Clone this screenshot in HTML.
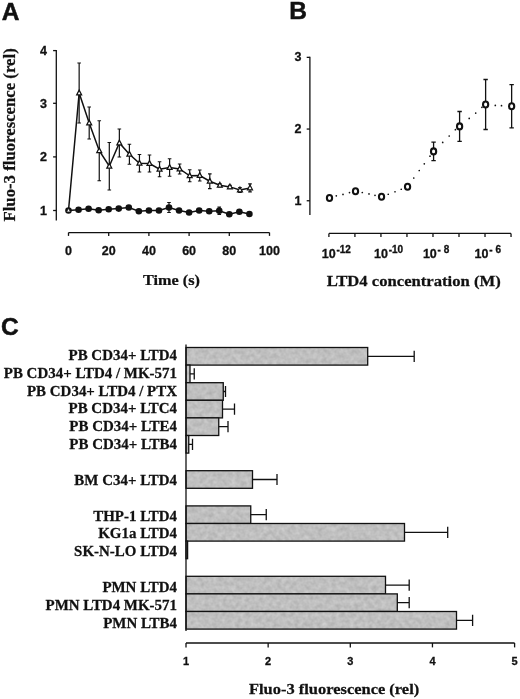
<!DOCTYPE html><html><head><meta charset="utf-8"><title>Figure</title><style>
html,body{margin:0;padding:0;background:#fff;}svg{display:block;will-change:transform;opacity:0.999;}
.s{font-family:"Liberation Sans",sans-serif;font-weight:bold;fill:#111;stroke:#111;stroke-width:0.3;}
.r{font-family:"Liberation Serif",serif;font-weight:bold;fill:#111;stroke:#111;stroke-width:0.25;}
.p{stroke:#111;stroke-width:0.5;}
</style></head><body>
<svg width="520" height="699" viewBox="0 0 520 699">
<rect width="520" height="699" fill="#fff"/>
<defs><filter id="n" x="0" y="0" width="100%" height="100%" color-interpolation-filters="sRGB"><feTurbulence type="fractalNoise" baseFrequency="0.22" numOctaves="2" seed="7" result="t"/><feColorMatrix in="t" type="matrix" values="0.16 0 0 0 0.67  0.16 0 0 0 0.67  0.16 0 0 0 0.67  0 0 0 0 1" result="g"/><feComposite in="g" in2="SourceGraphic" operator="in"/></filter></defs>
<text class="s p" x="1.8" y="19.6" font-size="24.5">A</text>
<text class="s p" x="289.3" y="19.1" font-size="24.5">B</text>
<text class="s p" x="1" y="334.7" font-size="24.5">C</text>
<path d="M56.3 50.1V220.5" stroke="#111" stroke-width="1.3" fill="none"/>
<path d="M53.099999999999994 210.5H56.3" stroke="#111" stroke-width="1.3"/>
<text class="s" x="46.9" y="214.9" font-size="12.5" text-anchor="end">1</text>
<path d="M53.099999999999994 156.9H56.3" stroke="#111" stroke-width="1.3"/>
<text class="s" x="46.9" y="161.3" font-size="12.5" text-anchor="end">2</text>
<path d="M53.099999999999994 103.3H56.3" stroke="#111" stroke-width="1.3"/>
<text class="s" x="46.9" y="107.7" font-size="12.5" text-anchor="end">3</text>
<path d="M53.099999999999994 50.6H56.3" stroke="#111" stroke-width="1.3"/>
<text class="s" x="46.9" y="55.0" font-size="12.5" text-anchor="end">4</text>
<path d="M68.5 232.6H269.5" stroke="#111" stroke-width="1.3" fill="none"/>
<path d="M68.5 232.6V235.9" stroke="#111" stroke-width="1.3"/>
<text class="s" x="68.5" y="254.9" font-size="12.5" text-anchor="middle">0</text>
<path d="M108.69999999999999 232.6V235.9" stroke="#111" stroke-width="1.3"/>
<text class="s" x="108.69999999999999" y="254.9" font-size="12.5" text-anchor="middle">20</text>
<path d="M148.89999999999998 232.6V235.9" stroke="#111" stroke-width="1.3"/>
<text class="s" x="148.89999999999998" y="254.9" font-size="12.5" text-anchor="middle">40</text>
<path d="M189.1 232.6V235.9" stroke="#111" stroke-width="1.3"/>
<text class="s" x="189.1" y="254.9" font-size="12.5" text-anchor="middle">60</text>
<path d="M229.29999999999998 232.6V235.9" stroke="#111" stroke-width="1.3"/>
<text class="s" x="229.29999999999998" y="254.9" font-size="12.5" text-anchor="middle">80</text>
<path d="M269.5 232.6V235.9" stroke="#111" stroke-width="1.3"/>
<text class="s" x="269.5" y="254.9" font-size="12.5" text-anchor="middle">100</text>
<text class="r" transform="translate(171.5 284.6) scale(1.061 1)" font-size="15.3" text-anchor="middle">Time (s)</text>
<text class="r" transform="translate(15.2 134.9) rotate(-90) scale(0.947 1)" font-size="17.7" text-anchor="middle">Fluo-3 fluorescence (rel)</text>
<path d="M79.15 63V123M77.35000000000001 63H80.95M77.35000000000001 123H80.95" stroke="#111" stroke-width="1.2" fill="none"/>
<path d="M89.2 107V139M87.4 107H91.0M87.4 139H91.0" stroke="#111" stroke-width="1.2" fill="none"/>
<path d="M99.25 120.75V180.75M97.45 120.75H101.05M97.45 180.75H101.05" stroke="#111" stroke-width="1.2" fill="none"/>
<path d="M109.3 142.5V190.0M107.5 142.5H111.1M107.5 190.0H111.1" stroke="#111" stroke-width="1.2" fill="none"/>
<path d="M119.35 129V157M117.55 129H121.14999999999999M117.55 157H121.14999999999999" stroke="#111" stroke-width="1.2" fill="none"/>
<path d="M129.4 144.25V164.25M127.60000000000001 144.25H131.20000000000002M127.60000000000001 164.25H131.20000000000002" stroke="#111" stroke-width="1.2" fill="none"/>
<path d="M139.45 154.5V172.0M137.64999999999998 154.5H141.25M137.64999999999998 172.0H141.25" stroke="#111" stroke-width="1.2" fill="none"/>
<path d="M149.5 155.0V172.0M147.7 155.0H151.3M147.7 172.0H151.3" stroke="#111" stroke-width="1.2" fill="none"/>
<path d="M159.55 161.75V176.75M157.75 161.75H161.35000000000002M157.75 176.75H161.35000000000002" stroke="#111" stroke-width="1.2" fill="none"/>
<path d="M169.6 158.75V176.25M167.79999999999998 158.75H171.4M167.79999999999998 176.25H171.4" stroke="#111" stroke-width="1.2" fill="none"/>
<path d="M179.65 164V174M177.85 164H181.45000000000002M177.85 174H181.45000000000002" stroke="#111" stroke-width="1.2" fill="none"/>
<path d="M189.7 169.75V181.75M187.89999999999998 169.75H191.5M187.89999999999998 181.75H191.5" stroke="#111" stroke-width="1.2" fill="none"/>
<path d="M199.75 170.0V181.0M197.95 170.0H201.55M197.95 181.0H201.55" stroke="#111" stroke-width="1.2" fill="none"/>
<path d="M209.8 173.85V188.65M208.0 173.85H211.60000000000002M208.0 188.65H211.60000000000002" stroke="#111" stroke-width="1.2" fill="none"/>
<path d="M219.85 183.8V186.8M218.04999999999998 183.8H221.65M218.04999999999998 186.8H221.65" stroke="#111" stroke-width="1.2" fill="none"/>
<path d="M229.9 185.4V188.4M228.1 185.4H231.70000000000002M228.1 188.4H231.70000000000002" stroke="#111" stroke-width="1.2" fill="none"/>
<path d="M239.95 187.5V192.5M238.14999999999998 187.5H241.75M238.14999999999998 192.5H241.75" stroke="#111" stroke-width="1.2" fill="none"/>
<path d="M250.0 183.9V191.9M248.2 183.9H251.8M248.2 191.9H251.8" stroke="#111" stroke-width="1.2" fill="none"/>
<path d="M169.0 202.5V212.5M167.2 202.5H170.8M167.2 212.5H170.8" stroke="#111" stroke-width="1.2" fill="none"/>
<path d="M219.25 207.05V214.45M217.45 207.05H221.05M217.45 214.45H221.05" stroke="#111" stroke-width="1.2" fill="none"/>
<polyline fill="none" stroke="#111" stroke-width="1.5" points="68.5,210.5 79.15,93 89.2,123 99.25,150.75 109.3,166.25 119.35,143 129.4,154.25 139.45,163.25 149.5,163.5 159.55,169.25 169.6,167.5 179.65,169 189.7,175.75 199.75,175.5 209.8,181.25 219.85,185.3 229.9,186.9 239.95,190 250.0,187.9"/>
<polyline fill="none" stroke="#111" stroke-width="1.5" points="68.5,210.5 78.55,209.7 88.6,208.8 98.65,210.3 108.7,209.2 118.75,208.6 128.8,207.5 138.85,211.25 148.9,210.5 158.95,210.5 169.0,207.5 179.05,210.5 189.1,212.5 199.15,210.5 209.2,211.25 219.25,210.75 229.3,214.25 239.35,211.75 249.4,214"/>
<circle cx="68.5" cy="210.5" r="3.3" fill="#111"/>
<circle cx="78.55" cy="209.7" r="3.3" fill="#111"/>
<circle cx="88.6" cy="208.8" r="3.3" fill="#111"/>
<circle cx="98.65" cy="210.3" r="3.3" fill="#111"/>
<circle cx="108.7" cy="209.2" r="3.3" fill="#111"/>
<circle cx="118.75" cy="208.6" r="3.3" fill="#111"/>
<circle cx="128.8" cy="207.5" r="3.3" fill="#111"/>
<circle cx="138.85" cy="211.25" r="3.3" fill="#111"/>
<circle cx="148.9" cy="210.5" r="3.3" fill="#111"/>
<circle cx="158.95" cy="210.5" r="3.3" fill="#111"/>
<circle cx="169.0" cy="207.5" r="3.3" fill="#111"/>
<circle cx="179.05" cy="210.5" r="3.3" fill="#111"/>
<circle cx="189.1" cy="212.5" r="3.3" fill="#111"/>
<circle cx="199.15" cy="210.5" r="3.3" fill="#111"/>
<circle cx="209.2" cy="211.25" r="3.3" fill="#111"/>
<circle cx="219.25" cy="210.75" r="3.3" fill="#111"/>
<circle cx="229.3" cy="214.25" r="3.3" fill="#111"/>
<circle cx="239.35" cy="211.75" r="3.3" fill="#111"/>
<circle cx="249.4" cy="214" r="3.3" fill="#111"/>
<path d="M68.5 208.2L70.5 212.0H66.5Z" fill="#fff" stroke="#111" stroke-width="0.8"/>
<path d="M79.15 90.1L81.65 94.9H76.65Z" fill="#fff" stroke="#111" stroke-width="1.2"/>
<path d="M89.2 120.1L91.7 124.9H86.7Z" fill="#fff" stroke="#111" stroke-width="1.2"/>
<path d="M99.25 147.85L101.75 152.65H96.75Z" fill="#fff" stroke="#111" stroke-width="1.2"/>
<path d="M109.3 163.35L111.8 168.15H106.8Z" fill="#fff" stroke="#111" stroke-width="1.2"/>
<path d="M119.35 140.1L121.85 144.9H116.85Z" fill="#fff" stroke="#111" stroke-width="1.2"/>
<path d="M129.4 151.35L131.9 156.15H126.9Z" fill="#fff" stroke="#111" stroke-width="1.2"/>
<path d="M139.45 160.35L141.95 165.15H136.95Z" fill="#fff" stroke="#111" stroke-width="1.2"/>
<path d="M149.5 160.6L152.0 165.4H147.0Z" fill="#fff" stroke="#111" stroke-width="1.2"/>
<path d="M159.55 166.35L162.05 171.15H157.05Z" fill="#fff" stroke="#111" stroke-width="1.2"/>
<path d="M169.6 164.6L172.1 169.4H167.1Z" fill="#fff" stroke="#111" stroke-width="1.2"/>
<path d="M179.65 166.1L182.15 170.9H177.15Z" fill="#fff" stroke="#111" stroke-width="1.2"/>
<path d="M189.7 172.85L192.2 177.65H187.2Z" fill="#fff" stroke="#111" stroke-width="1.2"/>
<path d="M199.75 172.6L202.25 177.4H197.25Z" fill="#fff" stroke="#111" stroke-width="1.2"/>
<path d="M209.8 178.35L212.3 183.15H207.3Z" fill="#fff" stroke="#111" stroke-width="1.2"/>
<path d="M219.85 182.4L222.35 187.20000000000002H217.35Z" fill="#fff" stroke="#111" stroke-width="1.2"/>
<path d="M229.9 184.0L232.4 188.8H227.4Z" fill="#fff" stroke="#111" stroke-width="1.2"/>
<path d="M239.95 187.1L242.45 191.9H237.45Z" fill="#fff" stroke="#111" stroke-width="1.2"/>
<path d="M250.0 185.0L252.5 189.8H247.5Z" fill="#fff" stroke="#111" stroke-width="1.2"/>
<path d="M309.9 56.849999999999994V215" stroke="#111" stroke-width="1.3" fill="none"/>
<path d="M306.7 200.75H309.9" stroke="#111" stroke-width="1.3"/>
<text class="s" x="301.5" y="204.8" font-size="12.5" text-anchor="end">1</text>
<path d="M306.7 129.05H309.9" stroke="#111" stroke-width="1.3"/>
<text class="s" x="301.5" y="133.1" font-size="12.5" text-anchor="end">2</text>
<path d="M306.7 57.349999999999994H309.9" stroke="#111" stroke-width="1.3"/>
<text class="s" x="301.5" y="61.3" font-size="12.5" text-anchor="end">3</text>
<path d="M328.9 233.4H511.03999999999996" stroke="#111" stroke-width="1.3" fill="none"/>
<path d="M328.9 233.4V236.9" stroke="#111" stroke-width="1.3"/>
<path d="M354.91999999999996 233.4V236.9" stroke="#111" stroke-width="1.3"/>
<path d="M380.94 233.4V236.9" stroke="#111" stroke-width="1.3"/>
<path d="M406.96 233.4V236.9" stroke="#111" stroke-width="1.3"/>
<path d="M432.97999999999996 233.4V236.9" stroke="#111" stroke-width="1.3"/>
<path d="M459.0 233.4V236.9" stroke="#111" stroke-width="1.3"/>
<path d="M485.02 233.4V236.9" stroke="#111" stroke-width="1.3"/>
<path d="M511.03999999999996 233.4V236.9" stroke="#111" stroke-width="1.3"/>
<text class="s" x="321.7" y="257.6" font-size="12.5">10<tspan dx="0.8" dy="-4.4" font-size="10">-12</tspan></text>
<text class="s" x="374.0" y="257.6" font-size="12.5">10<tspan dx="0.8" dy="-4.4" font-size="10">-10</tspan></text>
<text class="s" x="422.9" y="257.6" font-size="12.5">10<tspan dx="0.8" dy="-4.4" font-size="10">- 8</tspan></text>
<text class="s" x="474.6" y="257.6" font-size="12.5">10<tspan dx="0.8" dy="-4.4" font-size="10">- 6</tspan></text>
<text class="r" transform="translate(413.7 286) scale(1.074 1)" font-size="15.5" text-anchor="middle">LTD4 concentration (M)</text>
<path d="M336.3 195.8h0.01M343 194.4h0.01M349.5 192.6h0.01M362.3 192.5h0.01M369 193.9h0.01M375 195.3h0.01M388.25 194.25h0.01M395 191.75h0.01M401.25 189.25h0.01M413.75 178h0.01M419.25 170.5h0.01M424.3 163.8h0.01M430 156.2h0.01M442.7 142.4h0.01M449.2 136h0.01M455.4 129.7h0.01M469.2 118.4h0.01M475.7 113.1h0.01M481.9 107.3h0.01M495.3 105.4h0.01M501.5 105.7h0.01" stroke="#111" stroke-width="1.7" stroke-linecap="round" fill="none"/>
<ellipse cx="329.5" cy="198" rx="2.6" ry="3" fill="#fff" stroke="#111" stroke-width="2.1"/>
<ellipse cx="355.52" cy="191.25" rx="2.6" ry="3" fill="#fff" stroke="#111" stroke-width="2.1"/>
<ellipse cx="381.54" cy="196.75" rx="2.6" ry="3" fill="#fff" stroke="#111" stroke-width="2.1"/>
<ellipse cx="407.56" cy="186.75" rx="2.6" ry="3" fill="#fff" stroke="#111" stroke-width="2.1"/>
<path d="M433.58 142.20000000000002V160.6M431.38 142.20000000000002H435.78M431.38 160.6H435.78" stroke="#111" stroke-width="1.3" fill="none"/>
<ellipse cx="433.58" cy="151.4" rx="2.6" ry="3" fill="#fff" stroke="#111" stroke-width="2.1"/>
<path d="M459.6 111.5V141.3M457.40000000000003 111.5H461.8M457.40000000000003 141.3H461.8" stroke="#111" stroke-width="1.3" fill="none"/>
<ellipse cx="459.6" cy="126.4" rx="2.6" ry="3" fill="#fff" stroke="#111" stroke-width="2.1"/>
<path d="M485.62 79.5V129.5M483.42 79.5H487.82M483.42 129.5H487.82" stroke="#111" stroke-width="1.3" fill="none"/>
<ellipse cx="485.62" cy="104.5" rx="2.6" ry="3" fill="#fff" stroke="#111" stroke-width="2.1"/>
<path d="M511.64 84.6V127.80000000000001M509.44 84.6H513.84M509.44 127.80000000000001H513.84" stroke="#111" stroke-width="1.3" fill="none"/>
<ellipse cx="511.64" cy="106.2" rx="2.6" ry="3" fill="#fff" stroke="#111" stroke-width="2.1"/>
<rect x="186" y="347.5" width="181.70" height="17.6" fill="#bebebe" filter="url(#n)"/>
<rect x="186" y="347.5" width="181.70" height="17.6" fill="none" stroke="#111" stroke-width="1.3"/>
<path d="M367.7 356.3H414.2M414.2 350.7V361.90000000000003" stroke="#111" stroke-width="1.3" fill="none"/>
<text class="r" transform="translate(177 359.8) scale(1.032 1)" font-size="14.5" text-anchor="end">PB CD34+ LTD4</text>
<rect x="186" y="365.1" width="4.00" height="17.6" fill="#bebebe" filter="url(#n)"/>
<rect x="186" y="365.1" width="4.00" height="17.6" fill="none" stroke="#111" stroke-width="1.3"/>
<path d="M190 373.90000000000003H194.25M194.25 368.3V379.50000000000006" stroke="#111" stroke-width="1.3" fill="none"/>
<text class="r" transform="translate(177 377.7) scale(1.032 1)" font-size="14.5" text-anchor="end">PB CD34+ LTD4 / MK-571</text>
<rect x="186" y="382.7" width="37.25" height="17.6" fill="#bebebe" filter="url(#n)"/>
<rect x="186" y="382.7" width="37.25" height="17.6" fill="none" stroke="#111" stroke-width="1.3"/>
<path d="M223.25 391.5H225.5M225.5 385.9V397.1" stroke="#111" stroke-width="1.3" fill="none"/>
<text class="r" transform="translate(177 395.5) scale(1.032 1)" font-size="14.5" text-anchor="end">PB CD34+ LTD4 / PTX</text>
<rect x="186" y="400.3" width="36.50" height="17.6" fill="#bebebe" filter="url(#n)"/>
<rect x="186" y="400.3" width="36.50" height="17.6" fill="none" stroke="#111" stroke-width="1.3"/>
<path d="M222.5 409.1H234.5M234.5 403.5V414.70000000000005" stroke="#111" stroke-width="1.3" fill="none"/>
<text class="r" transform="translate(177 413.4) scale(1.032 1)" font-size="14.5" text-anchor="end">PB CD34+ LTC4</text>
<rect x="186" y="417.9" width="32.75" height="17.6" fill="#bebebe" filter="url(#n)"/>
<rect x="186" y="417.9" width="32.75" height="17.6" fill="none" stroke="#111" stroke-width="1.3"/>
<path d="M218.75 426.7H228M228 421.09999999999997V432.3" stroke="#111" stroke-width="1.3" fill="none"/>
<text class="r" transform="translate(177 431.2) scale(1.032 1)" font-size="14.5" text-anchor="end">PB CD34+ LTE4</text>
<rect x="186" y="435.5" width="2.75" height="17.6" fill="#bebebe" filter="url(#n)"/>
<rect x="186" y="435.5" width="2.75" height="17.6" fill="none" stroke="#111" stroke-width="1.3"/>
<path d="M188.75 444.3H192.5M192.5 438.7V449.90000000000003" stroke="#111" stroke-width="1.3" fill="none"/>
<text class="r" transform="translate(177 449.1) scale(1.032 1)" font-size="14.5" text-anchor="end">PB CD34+ LTB4</text>
<rect x="186" y="470.70000000000005" width="66.50" height="17.6" fill="#bebebe" filter="url(#n)"/>
<rect x="186" y="470.70000000000005" width="66.50" height="17.6" fill="none" stroke="#111" stroke-width="1.3"/>
<path d="M252.5 479.50000000000006H277M277 473.90000000000003V485.1000000000001" stroke="#111" stroke-width="1.3" fill="none"/>
<text class="r" transform="translate(177 484.8) scale(1.032 1)" font-size="14.5" text-anchor="end">BM C34+ LTD4</text>
<rect x="186" y="505.9" width="64.75" height="17.6" fill="#bebebe" filter="url(#n)"/>
<rect x="186" y="505.9" width="64.75" height="17.6" fill="none" stroke="#111" stroke-width="1.3"/>
<path d="M250.75 514.6999999999999H266.25M266.25 509.0999999999999V520.3" stroke="#111" stroke-width="1.3" fill="none"/>
<text class="r" transform="translate(177 520.5) scale(1.032 1)" font-size="14.5" text-anchor="end">THP-1 LTD4</text>
<rect x="186" y="523.5" width="218.50" height="17.6" fill="#bebebe" filter="url(#n)"/>
<rect x="186" y="523.5" width="218.50" height="17.6" fill="none" stroke="#111" stroke-width="1.3"/>
<path d="M404.5 532.3H447.7M447.7 526.6999999999999V537.9" stroke="#111" stroke-width="1.3" fill="none"/>
<text class="r" transform="translate(177 538.4) scale(1.032 1)" font-size="14.5" text-anchor="end">KG1a LTD4</text>
<rect x="186" y="541.1" width="1.60" height="17.6" fill="#bebebe" filter="url(#n)"/>
<rect x="186" y="541.1" width="1.60" height="17.6" fill="none" stroke="#111" stroke-width="1.3"/>
<text class="r" transform="translate(177 556.3) scale(1.032 1)" font-size="14.5" text-anchor="end">SK-N-LO LTD4</text>
<rect x="186" y="576.3" width="199.50" height="17.6" fill="#bebebe" filter="url(#n)"/>
<rect x="186" y="576.3" width="199.50" height="17.6" fill="none" stroke="#111" stroke-width="1.3"/>
<path d="M385.5 585.0999999999999H409.2M409.2 579.4999999999999V590.6999999999999" stroke="#111" stroke-width="1.3" fill="none"/>
<text class="r" transform="translate(177 592.0) scale(1.032 1)" font-size="14.5" text-anchor="end">PMN LTD4</text>
<rect x="186" y="593.9000000000001" width="211.30" height="17.6" fill="#bebebe" filter="url(#n)"/>
<rect x="186" y="593.9000000000001" width="211.30" height="17.6" fill="none" stroke="#111" stroke-width="1.3"/>
<path d="M397.3 602.7H409.2M409.2 597.1V608.3000000000001" stroke="#111" stroke-width="1.3" fill="none"/>
<text class="r" transform="translate(177 609.8) scale(1.032 1)" font-size="14.5" text-anchor="end">PMN LTD4 MK-571</text>
<rect x="186" y="611.5" width="270.50" height="17.6" fill="#bebebe" filter="url(#n)"/>
<rect x="186" y="611.5" width="270.50" height="17.6" fill="none" stroke="#111" stroke-width="1.3"/>
<path d="M456.5 620.3H472.6M472.6 614.6999999999999V625.9" stroke="#111" stroke-width="1.3" fill="none"/>
<text class="r" transform="translate(177 627.7) scale(1.032 1)" font-size="14.5" text-anchor="end">PMN LTB4</text>
<path d="M186 344.5V631" stroke="#111" stroke-width="1.3" fill="none"/>
<path d="M186.0 643H514.6" stroke="#111" stroke-width="1.3" fill="none"/>
<path d="M186.0 643V647.4" stroke="#111" stroke-width="1.3"/>
<text class="s" x="186.0" y="664.9" font-size="11" text-anchor="middle">1</text>
<path d="M268.15 643V647.4" stroke="#111" stroke-width="1.3"/>
<text class="s" x="268.15" y="664.9" font-size="11" text-anchor="middle">2</text>
<path d="M350.3 643V647.4" stroke="#111" stroke-width="1.3"/>
<text class="s" x="350.3" y="664.9" font-size="11" text-anchor="middle">3</text>
<path d="M432.45000000000005 643V647.4" stroke="#111" stroke-width="1.3"/>
<text class="s" x="432.45000000000005" y="664.9" font-size="11" text-anchor="middle">4</text>
<path d="M514.6 643V647.4" stroke="#111" stroke-width="1.3"/>
<text class="s" x="514.6" y="664.9" font-size="11" text-anchor="middle">5</text>
<text class="r" transform="translate(334.1 693.6) scale(1.097 1)" font-size="15" text-anchor="middle">Fluo-3 fluorescence (rel)</text>
</svg></body></html>
